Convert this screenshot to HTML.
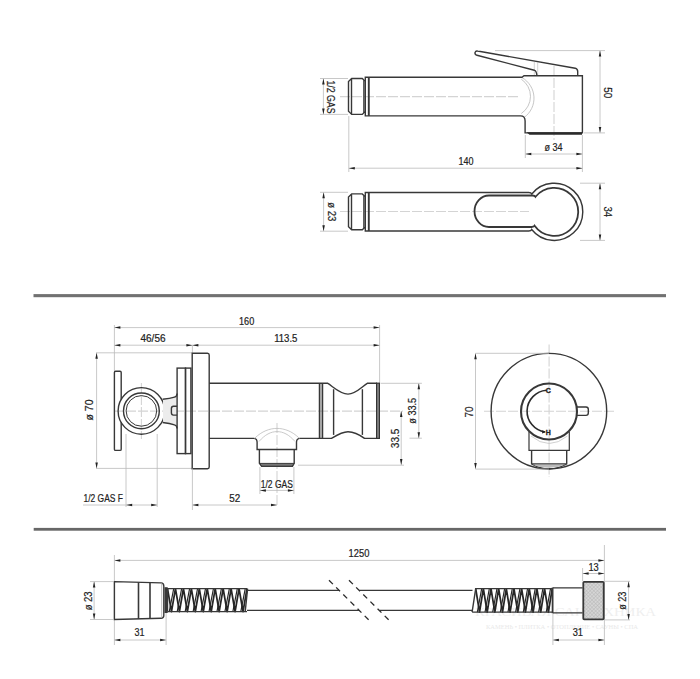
<!DOCTYPE html>
<html><head><meta charset="utf-8"><style>
html,body{margin:0;padding:0;background:#fff;}
svg{display:block;font-family:"Liberation Sans",sans-serif;}
</style></head><body>
<svg width="700" height="679" viewBox="0 0 700 679">
<rect width="700" height="679" fill="#fff"/>
<rect x="33.5" y="294.1" width="632.5" height="3.1" fill="#717171"/>
<rect x="33.7" y="527.9" width="632.3" height="2.8" fill="#676767"/>
<line x1="340" y1="96.6" x2="519.4" y2="96.6" stroke="#d4d4d4" stroke-width="1.1" stroke-dasharray="10 2" fill="none"/>
<line x1="554" y1="66" x2="554" y2="140" stroke="#d4d4d4" stroke-width="1.1" stroke-dasharray="10 2" fill="none"/>
<path d="M522,77.6 A23.7,23.7 0 0 1 524.2,117.4" stroke="#b8b8b8" stroke-width="0.8" fill="none"/>
<path d="M521.3,79.2 A20.6,20.6 0 0 1 521.3,113.5" stroke="#b8b8b8" stroke-width="0.8" fill="none"/>
<line x1="534.3" y1="62" x2="534.3" y2="75.5" stroke="#c8c8c8" stroke-width="0.8"/>
<line x1="537.7" y1="62.5" x2="537.7" y2="75.5" stroke="#c8c8c8" stroke-width="0.8"/>
<path d="M351.7,78.5 H362.3 L363.9,80.1 V112.8 L362.3,114.4 H351.7 L348.5,111.3 V81.6 Z" stroke="#383838" stroke-width="1.4" fill="none"/>
<line x1="351.5" y1="78.8" x2="351.5" y2="114.1" stroke="#383838" stroke-width="1.4" fill="none"/>
<path d="M363.9,80.6 H365.3 M363.9,112.3 H365.3" stroke="#383838" stroke-width="1.4" fill="none"/>
<path d="M365.3,77.3 H522 L524,75.8 H582.4 V132.9 H525.1 V121 Q525.1,115.9 520.5,115.9 H365.3 Z" stroke="#383838" stroke-width="1.4" fill="none"/>
<line x1="368.8" y1="77.3" x2="368.8" y2="115.9" stroke="#383838" stroke-width="1.9"/>
<path d="M526.5,132.2 H582 V134.8 H529.5 Z" fill="#2a2a2a"/>
<path d="M536.9,75.5 Q536.5,71 534.3,70.2 L477,55.3 Q474.6,54.4 475,52.6 Q475.6,50.6 477.6,51 L575.2,68.2 Q577.7,69 577.7,71.5 V75.8" stroke="#383838" stroke-width="1.4" fill="none"/>
<line x1="323.4" y1="78.5" x2="323.4" y2="114.4" stroke="#bababa" stroke-width="0.8" fill="none"/>
<path d="M323.40,78.50 L324.65,84.50 L322.15,84.50 Z" fill="#222"/>
<path d="M323.40,114.40 L322.15,108.40 L324.65,108.40 Z" fill="#222"/>
<line x1="320" y1="78.5" x2="348" y2="78.5" stroke="#bababa" stroke-width="0.8" fill="none"/>
<line x1="320" y1="114.4" x2="348" y2="114.4" stroke="#bababa" stroke-width="0.8" fill="none"/>
<text x="0" y="0" transform="translate(330.6,97) rotate(90)" font-size="10.0" text-anchor="middle" dominant-baseline="central" fill="#222" stroke="#222" stroke-width="0.2" textLength="33" lengthAdjust="spacingAndGlyphs">1/2 GAS</text>
<line x1="600" y1="50.6" x2="600" y2="132.9" stroke="#bababa" stroke-width="0.8" fill="none"/>
<path d="M600.00,50.60 L601.25,56.60 L598.75,56.60 Z" fill="#222"/>
<path d="M600.00,132.90 L598.75,126.90 L601.25,126.90 Z" fill="#222"/>
<line x1="495" y1="50.6" x2="605" y2="50.6" stroke="#bababa" stroke-width="0.8" fill="none"/>
<line x1="584" y1="132.9" x2="605" y2="132.9" stroke="#bababa" stroke-width="0.8" fill="none"/>
<text x="0" y="0" transform="translate(607,92.8) rotate(90)" font-size="10.0" text-anchor="middle" dominant-baseline="central" fill="#222" stroke="#222" stroke-width="0.2" textLength="11" lengthAdjust="spacingAndGlyphs">50</text>
<line x1="525.3" y1="154" x2="582.4" y2="154" stroke="#bababa" stroke-width="0.8" fill="none"/>
<path d="M525.30,154.00 L531.30,152.75 L531.30,155.25 Z" fill="#222"/>
<path d="M582.40,154.00 L576.40,155.25 L576.40,152.75 Z" fill="#222"/>
<line x1="525.3" y1="135" x2="525.3" y2="158" stroke="#bababa" stroke-width="0.8" fill="none"/>
<line x1="582.4" y1="135" x2="582.4" y2="172" stroke="#bababa" stroke-width="0.8" fill="none"/>
<text x="553.5" y="147.9" font-size="10.0" text-anchor="middle" dominant-baseline="central" fill="#222" stroke="#222" stroke-width="0.2" textLength="18" lengthAdjust="spacingAndGlyphs">ø 34</text>
<line x1="348.8" y1="168.2" x2="582.4" y2="168.2" stroke="#bababa" stroke-width="0.8" fill="none"/>
<path d="M348.80,168.20 L354.80,166.95 L354.80,169.45 Z" fill="#222"/>
<path d="M582.40,168.20 L576.40,169.45 L576.40,166.95 Z" fill="#222"/>
<line x1="348.8" y1="116" x2="348.8" y2="172" stroke="#bababa" stroke-width="0.8" fill="none"/>
<text x="466" y="161.7" font-size="10.0" text-anchor="middle" dominant-baseline="central" fill="#222" stroke="#222" stroke-width="0.2" textLength="15" lengthAdjust="spacingAndGlyphs">140</text>
<line x1="340" y1="211.5" x2="529" y2="211.5" stroke="#d4d4d4" stroke-width="1.1" stroke-dasharray="10 2" fill="none"/>
<path d="M351.7,193.9 H362.3 L363.9,195.5 V228.2 L362.3,229.8 H351.7 L348.5,226.7 V197.0 Z" stroke="#383838" stroke-width="1.4" fill="none"/>
<line x1="351.5" y1="194.2" x2="351.5" y2="229.5" stroke="#383838" stroke-width="1.4" fill="none"/>
<path d="M363.9,196.0 H365.3 M363.9,227.7 H365.3" stroke="#383838" stroke-width="1.4" fill="none"/>
<path d="M365.3,192.5 H528.8 Q531.2,192.5 531.8,194.0 A28.6,28.6 0 1 1 531.7,229.5 Q531.1,231.0 528.7,231.0 H365.3 Z" stroke="#383838" stroke-width="1.4" fill="none"/>
<line x1="368.8" y1="192.5" x2="368.8" y2="231.0" stroke="#383838" stroke-width="1.9"/>
<path d="M532.5,195.5 H489 A14.5,15.75 0 0 0 489,227.0 H531.6 Q534.0,227.0 534.6,225.7 A24,24 0 1 0 535.5,196.8 Q534.9,195.5 532.5,195.5 Z" stroke="#383838" stroke-width="1.8" fill="none"/>
<line x1="323.6" y1="192.3" x2="323.6" y2="231.2" stroke="#bababa" stroke-width="0.8" fill="none"/>
<path d="M323.60,192.30 L324.85,198.30 L322.35,198.30 Z" fill="#222"/>
<path d="M323.60,231.20 L322.35,225.20 L324.85,225.20 Z" fill="#222"/>
<line x1="320" y1="192.3" x2="348" y2="192.3" stroke="#bababa" stroke-width="0.8" fill="none"/>
<line x1="320" y1="231.2" x2="348" y2="231.2" stroke="#bababa" stroke-width="0.8" fill="none"/>
<text x="0" y="0" transform="translate(331,211.8) rotate(90)" font-size="10.0" text-anchor="middle" dominant-baseline="central" fill="#222" stroke="#222" stroke-width="0.2" textLength="19" lengthAdjust="spacingAndGlyphs">ø 23</text>
<line x1="600" y1="183.2" x2="600" y2="240.4" stroke="#bababa" stroke-width="0.8" fill="none"/>
<path d="M600.00,183.20 L601.25,189.20 L598.75,189.20 Z" fill="#222"/>
<path d="M600.00,240.40 L598.75,234.40 L601.25,234.40 Z" fill="#222"/>
<line x1="580" y1="183.2" x2="605" y2="183.2" stroke="#bababa" stroke-width="0.8" fill="none"/>
<line x1="580" y1="240.4" x2="605" y2="240.4" stroke="#bababa" stroke-width="0.8" fill="none"/>
<text x="0" y="0" transform="translate(607,211.7) rotate(90)" font-size="10.0" text-anchor="middle" dominant-baseline="central" fill="#222" stroke="#222" stroke-width="0.2" textLength="10.6" lengthAdjust="spacingAndGlyphs">34</text>
<line x1="114" y1="411.1" x2="403" y2="411.1" stroke="#d4d4d4" stroke-width="1.1" stroke-dasharray="10 2" fill="none"/>
<line x1="141.4" y1="383" x2="141.4" y2="439" stroke="#d4d4d4" stroke-width="1.1" stroke-dasharray="10 2" fill="none"/>
<line x1="277" y1="423" x2="277" y2="507" stroke="#d4d4d4" stroke-width="1.1" stroke-dasharray="10 2" fill="none"/>
<line x1="114.4" y1="325" x2="114.4" y2="371" stroke="#bababa" stroke-width="0.8" fill="none"/>
<line x1="379.6" y1="325" x2="379.6" y2="383" stroke="#bababa" stroke-width="0.8" fill="none"/>
<line x1="192.4" y1="345.5" x2="192.4" y2="353" stroke="#bababa" stroke-width="0.8" fill="none"/>
<line x1="114.4" y1="327.6" x2="379.6" y2="327.6" stroke="#bababa" stroke-width="0.8" fill="none"/>
<path d="M114.40,327.60 L120.40,326.35 L120.40,328.85 Z" fill="#222"/>
<path d="M379.60,327.60 L373.60,328.85 L373.60,326.35 Z" fill="#222"/>
<line x1="114.4" y1="345.2" x2="379.6" y2="345.2" stroke="#bababa" stroke-width="0.8" fill="none"/>
<path d="M114.40,345.20 L120.40,343.95 L120.40,346.45 Z" fill="#222"/>
<path d="M192.40,345.20 L186.40,346.45 L186.40,343.95 Z" fill="#222"/>
<path d="M192.40,345.20 L198.40,343.95 L198.40,346.45 Z" fill="#222"/>
<path d="M379.60,345.20 L373.60,346.45 L373.60,343.95 Z" fill="#222"/>
<text x="246.6" y="321.3" font-size="10.0" text-anchor="middle" dominant-baseline="central" fill="#222" stroke="#222" stroke-width="0.2" textLength="15.2" lengthAdjust="spacingAndGlyphs">160</text>
<text x="153" y="338.9" font-size="10.0" text-anchor="middle" dominant-baseline="central" fill="#222" stroke="#222" stroke-width="0.2" textLength="25" lengthAdjust="spacingAndGlyphs">46/56</text>
<text x="285.8" y="338.9" font-size="10.0" text-anchor="middle" dominant-baseline="central" fill="#222" stroke="#222" stroke-width="0.2" textLength="23.3" lengthAdjust="spacingAndGlyphs">113.5</text>
<line x1="96.6" y1="352.8" x2="96.6" y2="468.4" stroke="#bababa" stroke-width="0.8" fill="none"/>
<path d="M96.60,352.80 L97.85,358.80 L95.35,358.80 Z" fill="#222"/>
<path d="M96.60,468.40 L95.35,462.40 L97.85,462.40 Z" fill="#222"/>
<line x1="96" y1="352.8" x2="192" y2="352.8" stroke="#bababa" stroke-width="0.8" fill="none"/>
<line x1="96" y1="468.4" x2="192" y2="468.4" stroke="#bababa" stroke-width="0.8" fill="none"/>
<text x="0" y="0" transform="translate(89.6,410) rotate(-90)" font-size="10.0" text-anchor="middle" dominant-baseline="central" fill="#222" stroke="#222" stroke-width="0.2" textLength="21" lengthAdjust="spacingAndGlyphs">ø 70</text>
<path d="M121.2,399.6 V372.5 Q121.2,371.3 120,371.3 H115.6 Q114.4,371.3 114.4,372.5 V449.2 Q114.4,450.4 115.6,450.4 H120 Q121.2,450.4 121.2,449.2 V422.2" stroke="#383838" stroke-width="1.4" fill="none"/>
<circle cx="141.4" cy="410.9" r="23.3" stroke="#383838" stroke-width="1.4" fill="none"/>
<circle cx="141.4" cy="410.9" r="17.9" stroke="#383838" stroke-width="1.4" fill="none"/>
<circle cx="141.4" cy="410.9" r="15.3" stroke="#383838" stroke-width="1" fill="none"/>
<path d="M163,399.5 Q170,398.5 177.1,396 V426 Q170,423.5 163,422.3 Z" fill="#ececec"/>
<path d="M162.6,399.3 Q170,398.6 174.5,397.2 Q177.1,396.4 177.1,393.5" stroke="#383838" stroke-width="1.4" fill="none"/>
<path d="M162.6,422.5 Q170,423.3 174.5,424.8 Q177.1,425.6 177.1,428.5" stroke="#383838" stroke-width="1.4" fill="none"/>
<path d="M177.1,406.2 H173.5 Q171.4,406.2 171.4,408.5 V412.8 Q171.4,415.1 173.5,415.1 H177.1" stroke="#383838" stroke-width="1.4" fill="none"/>
<rect x="177.1" y="368.1" width="8.4" height="85.5" stroke="#383838" stroke-width="1.4" fill="none"/>
<rect x="185.5" y="368.1" width="5.4" height="85.5" stroke="#383838" stroke-width="1.4" fill="none"/>
<path d="M192.2,468.7 V353.2 H207.5 Q209.2,353.2 209.2,355 V467 Q209.2,468.7 207.5,468.7 Z" stroke="#383838" stroke-width="1.4" fill="none"/>
<path d="M209.2,383.2 H327.4 C333,386.5 340,394.1 348,394.1 C356,394.1 362,386.5 367.6,383.2 H377" stroke="#383838" stroke-width="1.4" fill="none"/>
<path d="M209.2,438.4 H253.8 Q257.1,438.6 257.1,442.3 V449.5 H296.5 V442.3 Q296.5,438.6 299.8,438.4 H331.5 C337,435 342,431.7 348,431.7 C355,431.7 360,435 364.5,438.4 H377" stroke="#383838" stroke-width="1.4" fill="none"/>
<line x1="319.6" y1="383.2" x2="319.6" y2="438.4" stroke="#383838" stroke-width="1.7"/>
<line x1="322.4" y1="383.2" x2="322.4" y2="438.4" stroke="#383838" stroke-width="1.7"/>
<line x1="333.6" y1="389.2" x2="333.6" y2="434.9" stroke="#383838" stroke-width="1.4" fill="none"/>
<line x1="362.4" y1="389.2" x2="362.4" y2="434.9" stroke="#383838" stroke-width="1.4" fill="none"/>
<rect x="376.6" y="383.2" width="2.8" height="55.2" fill="#8a8a8a" stroke="#333" stroke-width="1.2"/>
<path d="M254.5,438.4 C262,431 270,428.4 277,428.4 C284,428.4 292,431 299.5,438.4" stroke="#bdbdbd" stroke-width="0.8" fill="none"/>
<path d="M259,441.5 C265,434.5 271,431.6 277,431.6 C283,431.6 289,434.5 295,441.5" stroke="#bdbdbd" stroke-width="0.8" fill="none"/>
<path d="M259.4,449.5 V463.2 L261.7,466.4 H292.4 L294.2,463.2 V449.5" stroke="#383838" stroke-width="1.4" fill="none"/>
<path d="M259.6,463.4 H294 L292.2,466.2 H261.8 Z" fill="#777" stroke="#383838" stroke-width="1"/>
<line x1="259.9" y1="467" x2="259.9" y2="494" stroke="#bababa" stroke-width="0.8" fill="none"/>
<line x1="293.9" y1="467" x2="293.9" y2="494" stroke="#bababa" stroke-width="0.8" fill="none"/>
<line x1="259.9" y1="490.4" x2="293.9" y2="490.4" stroke="#bababa" stroke-width="0.8" fill="none"/>
<path d="M259.90,490.40 L265.90,489.15 L265.90,491.65 Z" fill="#222"/>
<path d="M293.90,490.40 L287.90,491.65 L287.90,489.15 Z" fill="#222"/>
<text x="276.8" y="484" font-size="10.0" text-anchor="middle" dominant-baseline="central" fill="#222" stroke="#222" stroke-width="0.2" textLength="32" lengthAdjust="spacingAndGlyphs">1/2 GAS</text>
<line x1="192.4" y1="505" x2="277" y2="505" stroke="#bababa" stroke-width="0.8" fill="none"/>
<path d="M192.40,505.00 L198.40,503.75 L198.40,506.25 Z" fill="#222"/>
<path d="M277.00,505.00 L271.00,506.25 L271.00,503.75 Z" fill="#222"/>
<line x1="192.4" y1="468.5" x2="192.4" y2="510" stroke="#bababa" stroke-width="0.8" fill="none"/>
<text x="234.7" y="498.5" font-size="10.0" text-anchor="middle" dominant-baseline="central" fill="#222" stroke="#222" stroke-width="0.2" textLength="11" lengthAdjust="spacingAndGlyphs">52</text>
<line x1="126" y1="434" x2="126" y2="507" stroke="#bababa" stroke-width="0.8" fill="none"/>
<line x1="157.2" y1="434" x2="157.2" y2="507" stroke="#bababa" stroke-width="0.8" fill="none"/>
<line x1="83" y1="505" x2="157.2" y2="505" stroke="#bababa" stroke-width="0.8" fill="none"/>
<path d="M126.20,505.00 L132.20,503.75 L132.20,506.25 Z" fill="#222"/>
<path d="M157.20,505.00 L151.20,506.25 L151.20,503.75 Z" fill="#222"/>
<text x="83.5" y="498.5" font-size="10.0" text-anchor="start" dominant-baseline="central" fill="#222" stroke="#222" stroke-width="0.2" textLength="39.4" lengthAdjust="spacingAndGlyphs">1/2 GAS F</text>
<line x1="418.8" y1="383.3" x2="418.8" y2="438.2" stroke="#bababa" stroke-width="0.8" fill="none"/>
<path d="M418.80,383.30 L420.05,389.30 L417.55,389.30 Z" fill="#222"/>
<path d="M418.80,438.20 L417.55,432.20 L420.05,432.20 Z" fill="#222"/>
<line x1="380.6" y1="383.3" x2="421.9" y2="383.3" stroke="#bababa" stroke-width="0.8" fill="none"/>
<line x1="409.5" y1="438.2" x2="421.9" y2="438.2" stroke="#bababa" stroke-width="0.8" fill="none"/>
<text x="0" y="0" transform="translate(412.6,410.8) rotate(-90)" font-size="10.0" text-anchor="middle" dominant-baseline="central" fill="#222" stroke="#222" stroke-width="0.2" textLength="25.7" lengthAdjust="spacingAndGlyphs">ø 33.5</text>
<line x1="401.2" y1="411.1" x2="401.2" y2="464.9" stroke="#bababa" stroke-width="0.8" fill="none"/>
<path d="M401.20,411.10 L402.45,417.10 L399.95,417.10 Z" fill="#222"/>
<path d="M401.20,464.90 L399.95,458.90 L402.45,458.90 Z" fill="#222"/>
<line x1="298" y1="465.2" x2="404" y2="465.2" stroke="#bababa" stroke-width="0.8" fill="none"/>
<text x="0" y="0" transform="translate(395.2,438.4) rotate(-90)" font-size="10.0" text-anchor="middle" dominant-baseline="central" fill="#222" stroke="#222" stroke-width="0.2" textLength="19.5" lengthAdjust="spacingAndGlyphs">33.5</text>
<line x1="484" y1="411.3" x2="615.4" y2="411.3" stroke="#d4d4d4" stroke-width="1.1" stroke-dasharray="10 2" fill="none"/>
<line x1="549.1" y1="344.6" x2="549.1" y2="477" stroke="#d4d4d4" stroke-width="1.1" stroke-dasharray="10 2" fill="none"/>
<circle cx="548.9" cy="411.2" r="57.8" stroke="#383838" stroke-width="1.4" fill="none"/>
<circle cx="549" cy="411.5" r="28" stroke="#383838" stroke-width="2.1" fill="none"/>
<path d="M546.5,390.3 A21,21 0 0 0 544.9,432" stroke="#2a2a2a" stroke-width="1.6" fill="none"/>
<text x="548.3" y="390.4" font-size="7" font-weight="bold" text-anchor="middle" dominant-baseline="central" fill="#222" stroke="#222" stroke-width="0.4">C</text>
<text x="548.3" y="432.6" font-size="7" font-weight="bold" text-anchor="middle" dominant-baseline="central" fill="#222" stroke="#222" stroke-width="0.3">H</text>
<path d="M546.20,432.10 L542.13,433.50 L542.28,430.30 Z" fill="#222"/>
<path d="M577,407 H586 Q588.3,407 588.3,409.3 V413.1 Q588.3,415.4 586,415.4 H577" stroke="#383838" stroke-width="1.4" fill="none"/>
<path d="M529,432 V450.3 H569.3 V432" stroke="#383838" stroke-width="1.2" fill="none"/>
<path d="M531.6,450.3 V464 Q540,468.8 549.1,468.8 Q558,468.8 566.7,464 V450.3 M531.6,464 H566.7" stroke="#383838" stroke-width="1.4" fill="none"/>
<path d="M532.5,464.6 H565.8 Q558,467.8 549.1,467.8 Q540,467.8 532.5,464.6 Z" fill="#bbb"/>
<path d="M531,436 Q549,451 567.5,436" stroke="#c4c4c4" stroke-width="0.8" fill="none"/>
<line x1="475.5" y1="353.3" x2="475.5" y2="469.1" stroke="#bababa" stroke-width="0.8" fill="none"/>
<path d="M475.50,353.30 L476.75,359.30 L474.25,359.30 Z" fill="#222"/>
<path d="M475.50,469.10 L474.25,463.10 L476.75,463.10 Z" fill="#222"/>
<line x1="475.5" y1="353.3" x2="549" y2="353.3" stroke="#bababa" stroke-width="0.8" fill="none"/>
<line x1="475.5" y1="469.1" x2="549" y2="469.1" stroke="#bababa" stroke-width="0.8" fill="none"/>
<text x="0" y="0" transform="translate(469,411.9) rotate(-90)" font-size="10.0" text-anchor="middle" dominant-baseline="central" fill="#222" stroke="#222" stroke-width="0.2" textLength="11" lengthAdjust="spacingAndGlyphs">70</text>
<text x="475" y="615.5" font-family="Liberation Serif, serif" font-size="13.5" fill="#efefef" textLength="181" lengthAdjust="spacingAndGlyphs">КРАСИВАЯ САНТЕХНИКА</text>
<text x="486" y="628.6" font-family="Liberation Serif, serif" font-size="6.5" fill="#e9e9e9" textLength="152" lengthAdjust="spacingAndGlyphs">КАМЕНЬ • ПЛИТКА • ОТОПЛЕНИЕ • САУНЫ • СПА</text>
<line x1="114.4" y1="560.4" x2="604.4" y2="560.4" stroke="#bababa" stroke-width="0.8" fill="none"/>
<path d="M114.40,560.40 L120.40,559.15 L120.40,561.65 Z" fill="#222"/>
<path d="M604.40,560.40 L598.40,561.65 L598.40,559.15 Z" fill="#222"/>
<line x1="114.4" y1="555" x2="114.4" y2="645" stroke="#bababa" stroke-width="0.8" fill="none"/>
<line x1="604.4" y1="545" x2="604.4" y2="645" stroke="#bababa" stroke-width="0.8" fill="none"/>
<text x="359" y="553.3" font-size="10.0" text-anchor="middle" dominant-baseline="central" fill="#222" stroke="#222" stroke-width="0.2" textLength="20.8" lengthAdjust="spacingAndGlyphs">1250</text>
<path d="M114.4,581.6 L161,582.9 Q163.8,583.1 163.8,586 V615.5 Q163.8,618.2 161,618.2 L114.4,619.5 Z" stroke="#383838" stroke-width="1.4" fill="none"/>
<line x1="138.5" y1="582.3" x2="138.5" y2="618.8" stroke="#383838" stroke-width="1.6"/>
<line x1="150" y1="582.6" x2="150" y2="618.5" stroke="#383838" stroke-width="1.6"/>
<line x1="161.6" y1="583.5" x2="161.6" y2="617.5" stroke="#c8c8c8" stroke-width="1.2"/>
<rect x="164.5" y="587.2" width="3.2" height="25.8" fill="#383838"/>
<line x1="94.1" y1="581.6" x2="94.1" y2="619.5" stroke="#bababa" stroke-width="0.8" fill="none"/>
<path d="M94.10,581.60 L95.35,587.60 L92.85,587.60 Z" fill="#222"/>
<path d="M94.10,619.50 L92.85,613.50 L95.35,613.50 Z" fill="#222"/>
<line x1="90" y1="581.6" x2="114" y2="581.6" stroke="#bababa" stroke-width="0.8" fill="none"/>
<line x1="90" y1="619.5" x2="114" y2="619.5" stroke="#bababa" stroke-width="0.8" fill="none"/>
<text x="0" y="0" transform="translate(88.7,600.9) rotate(-90)" font-size="10.0" text-anchor="middle" dominant-baseline="central" fill="#222" stroke="#222" stroke-width="0.2" textLength="18.9" lengthAdjust="spacingAndGlyphs">ø 23</text>
<line x1="114.4" y1="640" x2="166.1" y2="640" stroke="#bababa" stroke-width="0.8" fill="none"/>
<path d="M114.40,640.00 L120.40,638.75 L120.40,641.25 Z" fill="#222"/>
<path d="M166.10,640.00 L160.10,641.25 L160.10,638.75 Z" fill="#222"/>
<line x1="166.1" y1="613" x2="166.1" y2="645" stroke="#bababa" stroke-width="0.8" fill="none"/>
<text x="139.6" y="632.4" font-size="10.0" text-anchor="middle" dominant-baseline="central" fill="#222" stroke="#222" stroke-width="0.2" textLength="10" lengthAdjust="spacingAndGlyphs">31</text>
<path d="M167.50,588.6 L171.47,611.6 L175.45,588.6 M175.45,588.6 L179.42,611.6 L183.40,588.6 M183.40,588.6 L187.38,611.6 L191.35,588.6 M191.35,588.6 L195.32,611.6 L199.30,588.6 M199.30,588.6 L203.28,611.6 L207.25,588.6 M207.25,588.6 L211.22,611.6 L215.20,588.6 M215.20,588.6 L219.17,611.6 L223.15,588.6 M223.15,588.6 L227.12,611.6 L231.10,588.6 M231.10,588.6 L235.07,611.6 L239.05,588.6 M239.05,588.6 L243.03,611.6 L247.00,588.6" stroke="#262626" stroke-width="1.75" fill="none" stroke-linejoin="round"/>
<path d="M169.25,611.6 L173.70,588.6 M177.20,611.6 L181.65,588.6 M185.15,611.6 L189.60,588.6 M193.10,611.6 L197.55,588.6 M201.05,611.6 L205.50,588.6 M209.00,611.6 L213.45,588.6 M216.95,611.6 L221.40,588.6 M224.90,611.6 L229.35,588.6 M232.85,611.6 L237.30,588.6 M240.80,611.6 L245.25,588.6" stroke="#262626" stroke-width="1.15" fill="none"/>
<path d="M167.5,611.6 L167.5,588.6 H247 M167.5,611.6 H247" stroke="#383838" stroke-width="1.4" fill="none"/>
<path d="M245.2,611.6 L247.6,588.6" stroke="#383838" stroke-width="1.4" fill="none"/>
<path d="M475.70,588.6 L479.52,612.1 L483.35,588.6 M483.35,588.6 L487.18,612.1 L491.00,588.6 M491.00,588.6 L494.82,612.1 L498.65,588.6 M498.65,588.6 L502.47,612.1 L506.30,588.6 M506.30,588.6 L510.12,612.1 L513.95,588.6 M513.95,588.6 L517.78,612.1 L521.60,588.6 M521.60,588.6 L525.43,612.1 L529.25,588.6 M529.25,588.6 L533.08,612.1 L536.90,588.6 M536.90,588.6 L540.73,612.1 L544.55,588.6 M544.55,588.6 L548.38,612.1 L552.20,588.6" stroke="#262626" stroke-width="1.75" fill="none" stroke-linejoin="round"/>
<path d="M477.38,612.1 L481.67,588.6 M485.03,612.1 L489.32,588.6 M492.68,612.1 L496.97,588.6 M500.33,612.1 L504.62,588.6 M507.98,612.1 L512.27,588.6 M515.63,612.1 L519.92,588.6 M523.28,612.1 L527.57,588.6 M530.93,612.1 L535.22,588.6 M538.58,612.1 L542.87,588.6 M546.23,612.1 L550.52,588.6" stroke="#262626" stroke-width="1.15" fill="none"/>
<path d="M472.09999999999997,612.1 L475.7,588.6 H552.2 M472.09999999999997,612.1 H552.2" stroke="#383838" stroke-width="1.4" fill="none"/>
<path d="M247,590.4 H338.9 M359.4,590.4 H472.5 M247,610.4 H358.9 M379.4,610.4 H472.5" stroke="#383838" stroke-width="1.4" fill="none"/>
<path d="M329,580.2 L369.8,621 M349,580.2 L389.8,621" stroke="#2a2a2a" stroke-width="1.3" stroke-dasharray="5.5 4.6" fill="none"/>
<path d="M552.9,587.9 H582.6 M552.9,612.9 H582.6" stroke="#383838" stroke-width="1.4" fill="none"/>
<line x1="552.6" y1="587.5" x2="552.6" y2="613.3" stroke="#383838" stroke-width="1.8"/>
<defs><pattern id="kn" width="2.6" height="2.6" patternUnits="userSpaceOnUse" patternTransform="rotate(45)"><rect width="2.6" height="2.6" fill="#d6d6d6"/><path d="M0,0 V2.6 M0,0 H2.6" stroke="#b4b4b4" stroke-width="0.9"/></pattern></defs>
<rect x="583.3" y="581.9" width="20.4" height="37.5" rx="0.8" fill="url(#kn)" stroke="#383838" stroke-width="1.8"/>
<line x1="582.6" y1="573.5" x2="604.4" y2="573.5" stroke="#bababa" stroke-width="0.8" fill="none"/>
<path d="M582.60,573.50 L588.60,572.25 L588.60,574.75 Z" fill="#222"/>
<path d="M604.40,573.50 L598.40,574.75 L598.40,572.25 Z" fill="#222"/>
<line x1="582.6" y1="568" x2="582.6" y2="581" stroke="#bababa" stroke-width="0.8" fill="none"/>
<text x="593.6" y="567" font-size="10.0" text-anchor="middle" dominant-baseline="central" fill="#222" stroke="#222" stroke-width="0.2" textLength="10.3" lengthAdjust="spacingAndGlyphs">13</text>
<line x1="628.6" y1="581.3" x2="628.6" y2="619.9" stroke="#bababa" stroke-width="0.8" fill="none"/>
<path d="M628.60,581.30 L629.85,587.30 L627.35,587.30 Z" fill="#222"/>
<path d="M628.60,619.90 L627.35,613.90 L629.85,613.90 Z" fill="#222"/>
<line x1="605" y1="581.3" x2="630" y2="581.3" stroke="#bababa" stroke-width="0.8" fill="none"/>
<line x1="605" y1="619.9" x2="630" y2="619.9" stroke="#bababa" stroke-width="0.8" fill="none"/>
<text x="0" y="0" transform="translate(622.4,600.7) rotate(-90)" font-size="10.0" text-anchor="middle" dominant-baseline="central" fill="#222" stroke="#222" stroke-width="0.2" textLength="18.3" lengthAdjust="spacingAndGlyphs">ø 23</text>
<line x1="552.9" y1="640" x2="604.4" y2="640" stroke="#bababa" stroke-width="0.8" fill="none"/>
<path d="M552.90,640.00 L558.90,638.75 L558.90,641.25 Z" fill="#222"/>
<path d="M604.40,640.00 L598.40,641.25 L598.40,638.75 Z" fill="#222"/>
<line x1="552.9" y1="614" x2="552.9" y2="645" stroke="#bababa" stroke-width="0.8" fill="none"/>
<text x="577.8" y="632.9" font-size="10.0" text-anchor="middle" dominant-baseline="central" fill="#222" stroke="#222" stroke-width="0.2" textLength="10.3" lengthAdjust="spacingAndGlyphs">31</text>
</svg></body></html>
